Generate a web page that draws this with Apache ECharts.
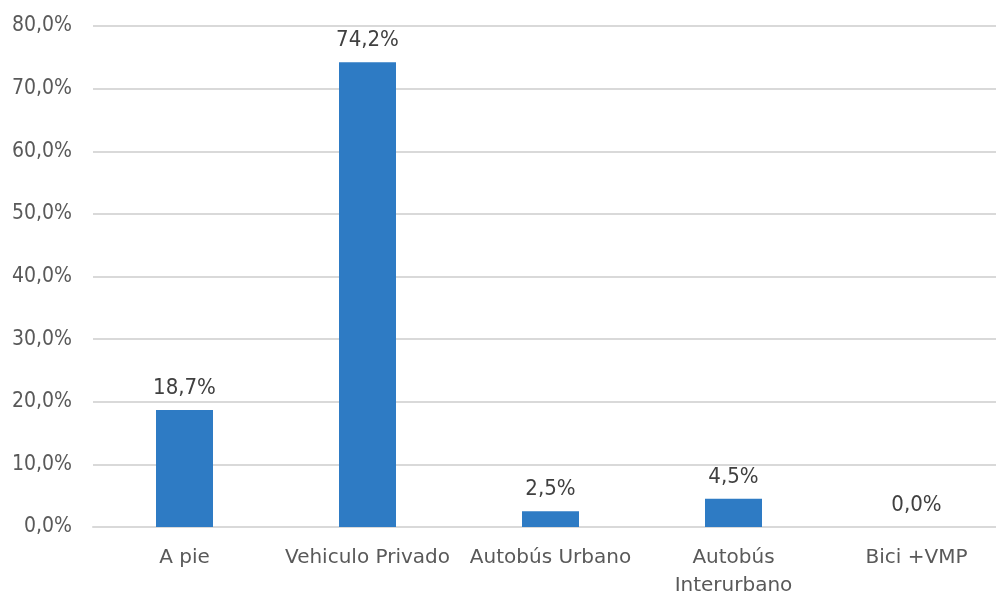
<!DOCTYPE html>
<html>
<head>
<meta charset="utf-8">
<script src="https://cdn.jsdelivr.net/npm/echarts@6/dist/echarts.min.js"></script>
<style>
  html, body { margin: 0; padding: 0; background: #ffffff; overflow: hidden; }
  #wrap { width: 996px; height: 595px; overflow: hidden; }
  #chart { width: 1010px; height: 595px; }
</style>
</head>
<body>
<div id="wrap"><div id="chart"></div></div>
<script>
// Modal split of trips (% of total)
const categories = ['A pie', 'Vehiculo Privado', 'Autobús Urbano', 'Autobús\nInterurbano', 'Bici +VMP'];
const shares = [18.7, 74.2, 2.5, 4.5, 0.0];
const yTicks = { min: 0, max: 80, interval: 10 };

const fmt = v => v.toFixed(1).replace('.', ',') + '%';
const condensed = '"DejaVu Sans Condensed", "DejaVu Sans", sans-serif';
const regular = '"DejaVu Sans", sans-serif';

const chart = echarts.init(document.getElementById('chart'), null, { renderer: 'canvas' });
chart.setOption({
  animation: false,
  backgroundColor: '#ffffff',
  grid: { left: 93, top: 26, right: 2, height: 501, containLabel: false, outerBoundsMode: 'none' },
  xAxis: {
    type: 'category',
    data: categories,
    axisLine: { show: true, lineStyle: { color: '#d9d9d9', width: 2 } },
    axisTick: { show: false },
    axisLabel: {
      color: '#595959', fontFamily: regular, fontSize: 20,
      margin: 17, lineHeight: 28, interval: 0
    }
  },
  yAxis: {
    type: 'value',
    min: yTicks.min, max: yTicks.max, interval: yTicks.interval,
    axisLine: { show: false },
    axisTick: { show: false },
    splitLine: { lineStyle: { color: '#d9d9d9', width: 2 } },
    axisLabel: {
      color: '#595959', fontFamily: condensed, fontSize: 21, margin: 21,
      formatter: v => fmt(v)
    }
  },
  series: [{
    type: 'bar',
    data: shares,
    barWidth: 57,
    itemStyle: { color: '#2e7bc4' },
    label: {
      show: true, position: 'top', distance: 11,
      color: '#404040', fontFamily: condensed, fontSize: 22,
      formatter: p => fmt(p.value)
    }
  }]
});
</script>
</body>
</html>
